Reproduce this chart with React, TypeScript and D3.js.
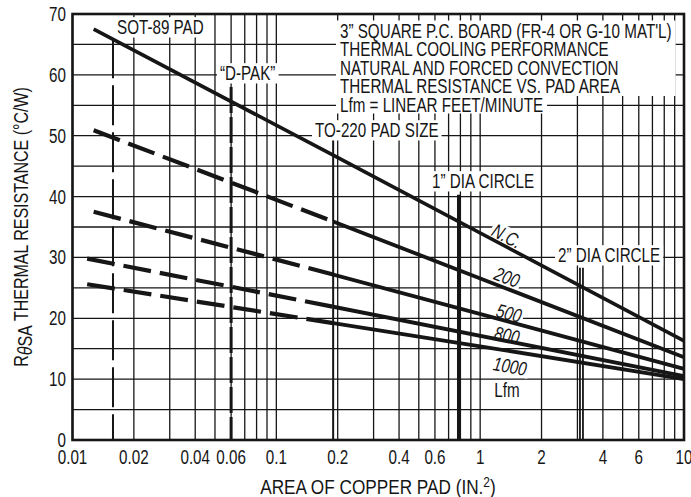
import React, { useEffect, useRef } from 'react';
import * as d3 from 'd3';

type Pt = [number, number];

const yTickValues = [0, 10, 20, 30, 40, 50, 60, 70];
const xTickValues = [0.01, 0.02, 0.04, 0.06, 0.1, 0.2, 0.4, 0.6, 1, 2, 4, 6, 10];
const xTickLabels = ['0.01', '0.02', '0.04', '0.06', '0.1', '0.2', '0.4', '0.6', '1', '2', '4', '6', '10'];

const seriesLabels = ['N.C.', '200', '500', '800', '1000'];
const ncArea = [0.0127, 0.19, 10];
const ncValue = [67.5, 46.8, 16.3];
const lfm200Area = [0.0127, 0.19, 10];
const lfm200Value = [50.9, 35.9, 13.6];
const lfm500Area = [0.0127, 0.19, 10];
const lfm500Value = [37.5, 27.2, 11.7];
const lfm800Area = [0.0118, 0.19, 10];
const lfm800Value = [29.8, 21.9, 10.5];
const lfm1000Area = [0.0118, 0.19, 1, 10];
const lfm1000Value = [25.6, 19.2, 15.4, 10.0];
const dashedUntilArea = [0, 0.19, 0.19, 0.19, 0.19];

const markerLabels = ['SOT-89 PAD', '“D-PAK”', 'TO-220 PAD SIZE', '1” DIA CIRCLE', '2” DIA CIRCLE'];
const markerArea = [0.0158, 0.06, 0.19, 0.785, 3.14];
const markerTopValue = [66, 58, 49.6, 40.3, 28.3];

const titleLines = [
  '3” SQUARE P.C. BOARD (FR-4 OR G-10 MAT\'L)',
  'THERMAL COOLING PERFORMANCE',
  'NATURAL AND FORCED CONVECTION',
  'THERMAL RESISTANCE VS. PAD AREA',
  'Lfm = LINEAR FEET/MINUTE',
];

const FONT = "'Liberation Sans', Arial, sans-serif";
const SX = 0.78;

export default function App() {
  const ref = useRef<SVGSVGElement>(null);

  useEffect(() => {
    const svg = d3.select(ref.current!);
    svg.selectAll('*').remove();
    svg.attr('font-family', FONT);

    const W = 691, H = 497;
    const x = d3.scaleLog().domain([0.01, 10]).range([72.5, 684]);
    const y = d3.scaleLinear().domain([0, 70]).range([440, 14]);
    const ink = '#161616';

    svg.append('rect').attr('width', W).attr('height', H).attr('fill', '#fff');

    const defs = svg.append('defs');
    defs.append('clipPath').attr('id', 'clipL').append('rect')
      .attr('x', 0).attr('y', 0).attr('width', x(0.19)).attr('height', H);
    defs.append('clipPath').attr('id', 'clipR').append('rect')
      .attr('x', x(0.19)).attr('y', 0).attr('width', W - x(0.19)).attr('height', H);

    // grid
    const gGrid = svg.append('g');
    gGrid.selectAll('line.v').data(x.ticks()).join('line')
      .attr('x1', d => x(d)).attr('x2', d => x(d))
      .attr('y1', y(70)).attr('y2', y(0))
      .attr('stroke', ink).attr('stroke-width', 1.3);
    gGrid.selectAll('line.h').data(y.ticks(14)).join('line')
      .attr('x1', x(0.01)).attr('x2', x(10))
      .attr('y1', d => y(d)).attr('y2', d => y(d))
      .attr('stroke', ink).attr('stroke-width', 1.3);

    // marker lines
    const gMark = svg.append('g');
    markerArea.forEach((a, i) => {
      const top = y(markerTopValue[i]);
      const xx = x(a);
      if (i === 0) {
        gMark.append('line').attr('x1', xx).attr('x2', xx).attr('y1', top).attr('y2', y(0))
          .attr('stroke', ink).attr('stroke-width', 2).attr('stroke-dasharray', '40 7');
      } else if (i === 1) {
        gMark.append('line').attr('x1', xx).attr('x2', xx).attr('y1', top).attr('y2', y(0))
          .attr('stroke', ink).attr('stroke-width', 3).attr('stroke-dasharray', '26 4');
      } else if (i === 2) {
        gMark.append('line').attr('x1', xx).attr('x2', xx).attr('y1', top).attr('y2', y(0))
          .attr('stroke', ink).attr('stroke-width', 2);
      } else if (i === 3) {
        gMark.append('line').attr('x1', xx).attr('x2', xx).attr('y1', top).attr('y2', y(0))
          .attr('stroke', ink).attr('stroke-width', 3.5);
      } else {
        [-1.5, 1.5].forEach(o => {
          gMark.append('line').attr('x1', xx + o).attr('x2', xx + o).attr('y1', top).attr('y2', y(0))
            .attr('stroke', ink).attr('stroke-width', 1.8);
        });
      }
    });

    const gBg = svg.append('g');
    const gCurves = svg.append('g');
    const gText = svg.append('g').attr('fill', ink);

    // curves
    const line = d3.line<Pt>().x(d => x(d[0])).y(d => y(d[1]));
    const allSeries: Pt[][] = [
      ncArea.map((a, i) => [a, ncValue[i]] as Pt),
      lfm200Area.map((a, i) => [a, lfm200Value[i]] as Pt),
      lfm500Area.map((a, i) => [a, lfm500Value[i]] as Pt),
      lfm800Area.map((a, i) => [a, lfm800Value[i]] as Pt),
      lfm1000Area.map((a, i) => [a, lfm1000Value[i]] as Pt),
    ];
    allSeries.forEach((s, i) => {
      if (dashedUntilArea[i] > 0) {
        gCurves.append('path').attr('d', line(s)!).attr('fill', 'none')
          .attr('stroke', ink).attr('stroke-width', 4.2).attr('stroke-dasharray', '28 9')
          .attr('clip-path', 'url(#clipL)');
        gCurves.append('path').attr('d', line(s)!).attr('fill', 'none')
          .attr('stroke', ink).attr('stroke-width', 3.8)
          .attr('clip-path', 'url(#clipR)');
      } else {
        gCurves.append('path').attr('d', line(s)!).attr('fill', 'none')
          .attr('stroke', ink).attr('stroke-width', 3.6);
      }
    });

    const FS = 19.5;
    // text helper: condensed via horizontal scale
    const addText = (parent: any, txt: string, px: number, py: number, anchor: string,
      rot = 0, italic = false, fs = FS, sx = SX) => {
      const g = parent.append('g').attr('transform', `translate(${px},${py}) rotate(${rot}) scale(${sx},1)`);
      const t = g.append('text').attr('x', 0).attr('y', fs * 0.36)
        .attr('text-anchor', anchor).attr('font-size', fs)
        .attr('font-style', italic ? 'italic' : 'normal').text(txt);
      const bb = (t.node() as SVGTextElement).getBBox();
      return { bb, transform: `translate(${px},${py}) rotate(${rot}) scale(${sx},1)` };
    };
    const addLabel = (txt: string, px: number, py: number, anchor: string, rot: number, italic: boolean, padX = 3, padY = 1) => {
      const { bb, transform } = addText(gText, txt, px, py, anchor, rot, italic);
      gBg.append('g').attr('transform', transform)
        .append('rect').attr('x', bb.x - padX / SX).attr('y', bb.y + 2 - padY)
        .attr('width', bb.width + 2 * padX / SX).attr('height', bb.height - 4 + 2 * padY).attr('fill', '#fff');
    };

    // title block
    const titleY = [30.5, 49, 67.5, 86, 104.5];
    const tb = titleLines.map((l, i) => addText(gText, l, 340, titleY[i], 'start').bb);
    const maxW = d3.max(tb.slice(0, 4), b => b.width)! * SX;
    gBg.append('rect').attr('x', 336).attr('y', titleY[0] - 10)
      .attr('width', maxW + 8).attr('height', titleY[3] - titleY[0] + 20).attr('fill', '#fff');
    gBg.append('rect').attr('x', 336).attr('y', titleY[4] - 9)
      .attr('width', tb[4].width * SX + 8).attr('height', 18).attr('fill', '#fff');

    // marker labels
    const markerPos: [number, number][] = [[117, 27], [220, 73], [315, 130], [432, 181], [558, 255]];
    markerLabels.forEach((l, i) => addLabel(l, markerPos[i][0], markerPos[i][1], 'start', 0, false));

    // curve labels
    const curvePos: [number, number, number][] = [[507, 236, 28], [507, 277, 21], [509, 313, 15], [507, 335, 11], [510, 366, 10]];
    seriesLabels.forEach((l, i) => addLabel(l, curvePos[i][0], curvePos[i][1], 'middle', curvePos[i][2], true, 2, 0));
    addLabel('Lfm', 507, 390, 'middle', 0, false, 3, 1);

    // tick labels
    yTickValues.forEach(v => addText(gText, String(v), 66, y(v), 'end'));
    xTickValues.forEach((v, i) => addText(gText, xTickLabels[i], x(v), 457, 'middle'));

    // axis titles
    const xg = gText.append('g').attr('transform', `translate(378,${487 + 20 * 0.36}) scale(0.86,1)`);
    const xl = xg.append('text').attr('x', 0).attr('y', 0)
      .attr('text-anchor', 'middle').attr('font-size', 20);
    xl.append('tspan').text('AREA OF COPPER PAD (IN.');
    xl.append('tspan').attr('dy', -7).attr('font-size', 14).text('2');
    xl.append('tspan').attr('dy', 7).text(')');

    const yg = gText.append('g').attr('transform', `translate(28,227) rotate(-90) scale(0.8,1)`);
    const yl = yg.append('text').attr('x', 0).attr('y', 0)
      .attr('text-anchor', 'middle').attr('font-size', 20);
    yl.append('tspan').text('R');
    yl.append('tspan').attr('dy', 3.5).attr('font-style', 'italic').text('θ');
    yl.append('tspan').text('SA');
    yl.append('tspan').attr('dy', -3.5).text(' THERMAL RESISTANCE (°C/W)');

    // border
    svg.append('rect').attr('x', x(0.01)).attr('y', y(70))
      .attr('width', x(10) - x(0.01)).attr('height', y(0) - y(70))
      .attr('fill', 'none').attr('stroke', ink).attr('stroke-width', 2.6);
  }, []);

  return (
    <svg ref={ref} width={691} height={497}
      style={{ position: 'absolute', left: 0, top: 0, background: '#fff' }} />
  );
}
